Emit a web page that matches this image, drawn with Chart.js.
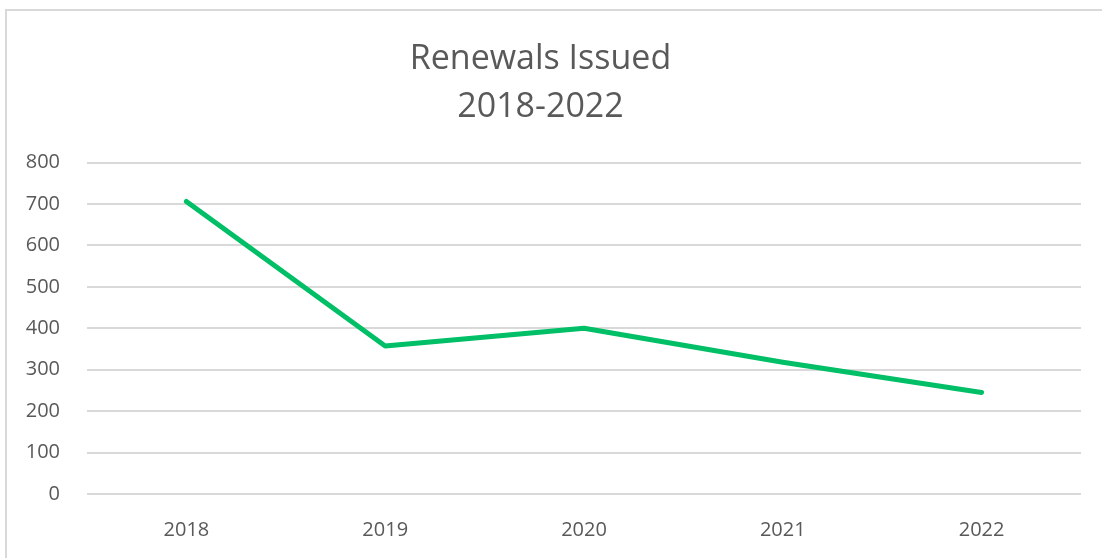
<!DOCTYPE html>
<html lang="en">

<head>
  <meta charset="UTF-8">
  <title>Renewals Issued</title>
  <style>
    body { margin: 0; background: #fff; overflow: hidden; }
    .moldura {
      position: absolute; left: 5px; top: 9px;
      width: 1200px; height: 700px;
      border-left: 2px solid #d9d9d9; border-top: 2px solid #d9d9d9;
    }
    .grafico { position: absolute; left: 0; top: 0; width: 1102px; height: 558px; }
  </style>
</head>

<body>
  <div class="moldura"></div>
  <div class="grafico">
    <canvas id="myChart" width="1102" height="558"></canvas>
  </div>

  <script src="https://cdn.jsdelivr.net/npm/chart.js"></script>
  <script>
    // dados do gráfico
    const anos = ['2018', '2019', '2020', '2021', '2022'];
    const renovacoes = [706, 357, 400, 318, 245];
    const eixoMin = 0;
    const eixoMax = 800;
    const passo = 100;

    const cinza = '#595959';
    const fonte = '"Open Sans", "Noto Sans", sans-serif';

    const ctx = document.getElementById('myChart').getContext('2d');

    new Chart(ctx, {
      type: 'line',
      data: {
        labels: anos,
        datasets: [{
          label: 'Renewals',
          data: renovacoes,
          borderColor: '#00bf66',
          borderWidth: 5,
          borderCapStyle: 'round',
          borderJoinStyle: 'round',
          pointRadius: 0,
          tension: 0,
          fill: false
        }]
      },
      options: {
        responsive: false,
        animation: false,
        layout: { padding: { left: 0, right: 21, top: 0, bottom: 0 } },
        scales: {
          y: {
            min: eixoMin,
            max: eixoMax,
            ticks: {
              stepSize: passo,
              color: cinza,
              padding: 27,
              font: { family: fonte, size: 20 }
            },
            grid: { color: '#d9d9d9', lineWidth: 2, drawTicks: false },
            border: { display: false },
            afterFit: (scale) => { scale.width = 87; }
          },
          x: {
            offset: true,
            ticks: {
              color: cinza,
              padding: 24,
              font: { family: fonte, size: 20 }
            },
            grid: { display: false, drawTicks: false, offset: true },
            border: { display: false },
            afterFit: (scale) => { scale.height = 64; }
          }
        },
        plugins: {
          legend: { display: false },
          tooltip: { enabled: false },
          title: {
            display: true,
            text: ['Renewals Issued', '2018-2022'],
            color: cinza,
            font: { family: fonte, size: 34, weight: 'normal', lineHeight: 1.42 },
            padding: { top: 35, bottom: 31 }
          }
        }
      }
    });
  </script>
</body>

</html>
